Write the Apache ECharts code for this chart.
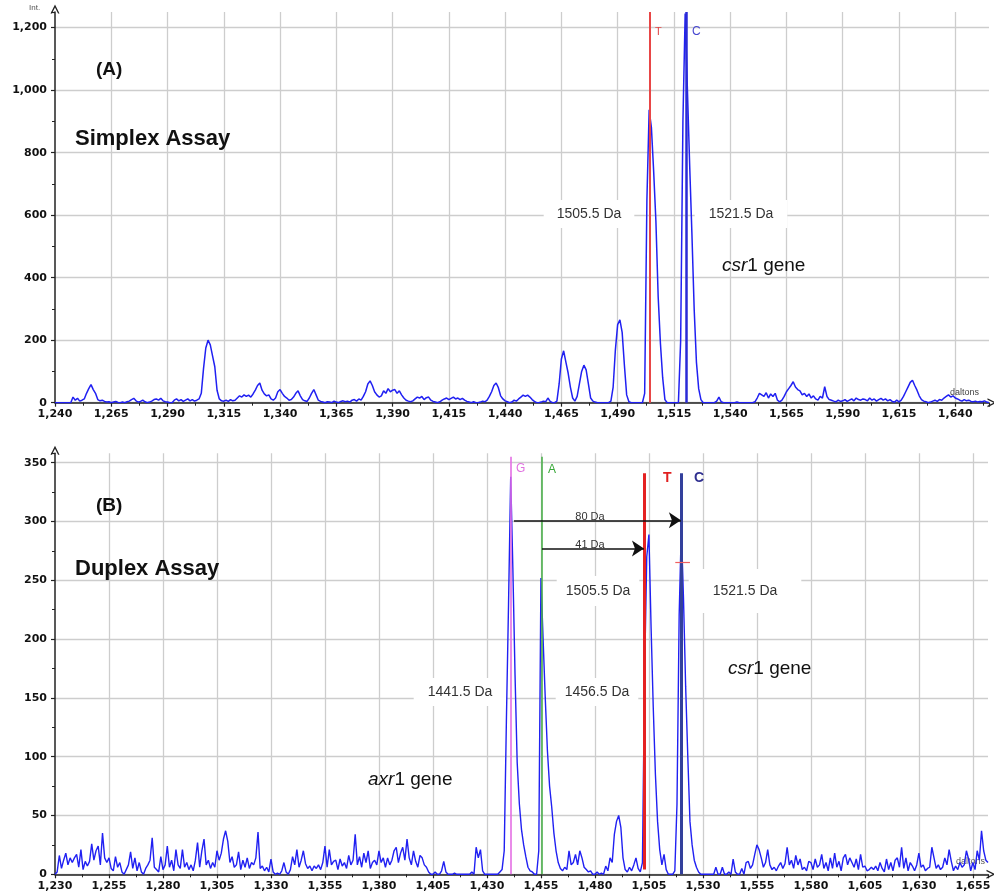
<!DOCTYPE html>
<html><head><meta charset="utf-8">
<script src="https://cdn.jsdelivr.net/npm/echarts@6/dist/echarts.min.js"></script>
<style>html,body{margin:0;padding:0;background:#fff}#c{width:994px;height:896px}</style>
</head><body><div id="c"></div>
<script>
// ---------- Panel A : Simplex Assay (1 Da sampling from massStartA) ----------
const massStartA = 1240;
const intensityA = [
  0,0,0,0,0,0,0,0,18,8,            // 1240
  14,5,8,12,30,45,58,42,30,10,     // 1250
  6,8,4,2,3,0,2,4,1,0,             // 1260
  2,0,3,5,10,14,6,2,4,8,           // 1270
  3,0,2,5,10,12,8,14,6,3,          // 1280
  2,0,0,8,12,6,10,4,8,12,          // 1290
  6,10,5,8,12,30,110,175,200,185,  // 1300
  150,115,40,12,6,5,8,4,10,6,      // 1310
  8,15,22,18,25,20,24,18,28,40,    // 1320
  55,63,40,28,22,25,12,8,15,35,    // 1330
  42,30,20,15,8,10,18,30,38,22,    // 1340
  10,6,4,15,30,42,25,8,4,2,        // 1350
  0,3,2,0,5,2,0,4,6,3,             // 1360
  5,2,8,10,5,12,8,20,35,60,        // 1370
  70,55,35,25,18,22,38,30,45,35,   // 1380
  40,42,30,38,25,15,8,5,3,6,       // 1390
  12,18,15,20,10,16,18,8,4,2,      // 1400
  0,3,8,12,15,10,14,18,12,15,      // 1410
  10,14,8,4,2,0,3,0,0,2,           // 1420
  5,3,8,20,35,55,63,48,22,12,      // 1430
  6,3,0,2,8,5,12,18,24,20,         // 1440
  24,18,10,4,0,0,2,5,3,15,         // 1450
  4,0,0,5,60,140,166,130,95,50,    // 1460
  15,5,20,60,100,120,105,60,15,5,  // 1470
  2,0,0,0,0,0,0,5,50,170,          // 1480
  250,265,225,120,25,3,0,0,0,0,    // 1490
  0,0,30,650,937,880,740,580,340,190, // 1500
  80,10,0,0,0,0,0,0,200,900,       // 1510
  1245,1000,760,540,300,130,45,10,0,0, // 1520
  0,0,0,0,5,18,3,0,0,0,            // 1530
  0,0,0,2,0,0,0,0,0,0,             // 1540
  0,3,15,30,25,20,32,15,28,20,     // 1550
  30,8,3,8,20,35,45,55,67,50,      // 1560
  42,38,25,30,20,28,15,22,12,8,    // 1570
  20,15,51,20,10,8,5,3,8,4,        // 1580
  6,10,4,8,12,6,15,10,8,12,        // 1590
  10,6,15,8,12,5,10,14,8,12,       // 1600
  6,10,4,2,8,3,8,20,35,50,         // 1610
  65,72,55,40,22,10,5,3,0,2,       // 1620
  5,8,4,10,8,15,20,25,18,22,       // 1630
  15,12,8,5,10,6,8,4,3,5,          // 1640
  2,4,3,6,2,0                      // 1650
];
const axisA = {min: 1240, max: 1655, interval: 25, yMax: 1250, yInterval: 200};
const markerNamesA = ['T', 'C'];
const markerMassA = [1504.4, 1520.4];

// ---------- Panel B : Duplex Assay (1 Da sampling from massStartB) ----------
const massStartB = 1230;
const intensityB = [
  0,2,16,5,12,18,8,14,10,14,       // 1230
  17,6,21,4,11,7,11,26,12,20,      // 1240
  24,8,35,14,10,14,5,3,15,6,       // 1250
  10,2,0,4,8,19,5,14,3,10,         // 1260
  2,0,5,8,12,31,6,4,2,15,          // 1270
  4,8,24,6,12,3,21,8,5,21,         // 1280
  6,10,4,8,3,12,27,6,20,30,        // 1290
  8,12,5,10,6,20,12,18,30,37,      // 1300
  28,10,15,6,8,19,4,12,6,14,       // 1310
  5,10,8,14,36,5,7,3,6,2,          // 1320
  13,2,0,1,0,3,10,2,0,4,           // 1330
  15,8,21,6,12,20,9,5,7,3,         // 1340
  7,5,8,4,10,24,6,21,8,11,         // 1350
  12,4,13,7,10,5,16,8,12,34,       // 1360
  8,15,6,18,10,20,5,10,12,8,       // 1370
  20,10,14,6,14,8,12,20,23,10,     // 1380
  18,23,12,30,14,8,20,11,6,16,     // 1390
  14,8,6,2,0,0,2,0,0,3,            // 1400
  11,2,0,0,0,1,0,0,0,0,            // 1410
  0,0,0,2,0,23,14,21,3,0,          // 1420
  0,0,0,0,0,0,2,4,20,130,          // 1430
  230,338,260,170,95,60,38,25,15,6, // 1440
  3,2,0,0,20,252,200,150,105,75,   // 1450
  57,35,20,10,5,3,6,4,20,8,        // 1460
  10,17,8,20,14,6,4,2,3,0,         // 1470
  0,2,0,1,0,7,3,14,10,34,          // 1480
  45,50,40,14,4,2,6,3,8,14,        // 1490
  5,2,10,171,270,289,210,142,85,45, // 1500
  21,8,17,4,0,0,0,3,60,220,        // 1510
  294,235,160,100,45,25,12,6,2,0,  // 1520
  0,0,0,0,0,0,6,0,0,6,             // 1530
  0,0,2,0,13,2,0,0,5,0,            // 1540
  10,11,5,8,17,25,21,14,6,10,      // 1550
  21,8,4,6,3,7,10,5,9,23,          // 1560
  8,12,5,16,8,13,4,6,3,11,         // 1570
  10,4,13,6,8,17,5,10,3,14,        // 1580
  5,18,6,11,3,14,17,8,14,10,       // 1590
  6,13,4,17,6,7,3,4,6,4,           // 1600
  7,3,10,5,2,13,4,10,3,12,         // 1610
  14,6,23,5,14,3,10,7,3,8,         // 1620
  18,6,8,3,5,6,23,14,5,8,          // 1630
  4,6,14,8,21,11,3,7,4,10,         // 1640
  6,8,20,13,3,10,4,20,12,37,       // 1650
  20,12,10                         // 1660
];
const axisB = {min: 1230, max: 1662, interval: 25, yMax: 358, yInterval: 50};
const markerNamesB = ['G', 'A', 'T', 'C'];
const markerMassB = [1440.9, 1455.5, 1502.7, 1519.8];
const markerTopB = [355, 355, 341, 341];
// mass-difference arrows: [fromMass, toMass, intensity level]
const arrowFromB = [1442.5, 1455.5];
const arrowToB = [1519.8, 1502.7];
const arrowLevelB = [301, 277];
const arrowTextB = ['80 Da', '41 Da'];

// ---------- build ----------
const pairsA = intensityA.map((v, i) => [massStartA + i, v]);
const pairsB = intensityB.map((v, i) => [massStartB + i, v]);
const comma = v => String(v).replace(/\B(?=(\d{3})+(?!\d))/g, ',');
const FONT = "'Liberation Sans', Arial, sans-serif";
const TICKFONT = "'DejaVu Sans', sans-serif";
const chevron = 'path://M0,10 L5,0 L10,10 L8.4,10 L5,3.2 L1.6,10 Z';

function xAxisCfg(idx, ax) {
  return {
    type: 'value', gridIndex: idx, min: ax.min, max: ax.max, interval: ax.interval,
    axisLine: {show: true, onZero: false, symbol: ['none', chevron], symbolSize: [9, 9], symbolOffset: [0, 3],
      lineStyle: {color: '#222', width: 1.5}},
    axisTick: {show: true, length: 4, inside: false, lineStyle: {color: '#222', width: 1.2}},
    minorTick: {show: true, splitNumber: 2, length: 3, lineStyle: {color: '#222', width: 1}},
    splitLine: {show: true, showMaxLine: false, showMinLine: false, lineStyle: {color: '#cdcdcd', width: 1.3}},
    axisLabel: {formatter: comma, color: '#111', fontFamily: TICKFONT, fontWeight: 'bold', fontSize: 11,
      margin: 6, showMaxLabel: false, hideOverlap: false}
  };
}
function yAxisCfg(idx, ax) {
  return {
    type: 'value', gridIndex: idx, min: 0, max: ax.yMax, interval: ax.yInterval,
    axisLine: {show: true, symbol: ['none', chevron], symbolSize: [9, 9], symbolOffset: [0, 3],
      lineStyle: {color: '#222', width: 1.5}},
    axisTick: {show: true, length: 4, lineStyle: {color: '#222', width: 1.2}},
    minorTick: {show: true, splitNumber: 2, length: 3, lineStyle: {color: '#222', width: 1}},
    splitLine: {show: true, showMaxLine: false, lineStyle: {color: '#cdcdcd', width: 1.3}},
    axisLabel: {formatter: comma, color: '#111', fontFamily: TICKFONT, fontWeight: 'bold', fontSize: 11,
      margin: 8, showMaxLabel: false}
  };
}

const colorsA = {T: '#e84646', C: '#2a2ad6'};
const colorsB = {G: '#e46ee4', A: '#4cb04c', T: '#e42222', C: '#33409c'};
const widthsB = {G: 1.6, A: 1.6, T: 3, C: 3};

const mlA = markerNamesA.map((n, i) => [
  {coord: [markerMassA[i], 0], lineStyle: {color: colorsA[n], width: n === 'C' ? 2.5 : 2, type: 'solid'}},
  {coord: [markerMassA[i], axisA.yMax]}
]);
const mlB = markerNamesB.map((n, i) => [
  {coord: [markerMassB[i], n === 'T' ? 4 : 0], lineStyle: {color: colorsB[n], width: widthsB[n], type: 'solid'}},
  {coord: [markerMassB[i], markerTopB[i]]}
]);
// small red tick next to C peak
mlB.push([{coord: [1517.2, 265], lineStyle: {color: '#f06060', width: 1.2, type: 'solid'}}, {coord: [1524, 265]}]);

const arrowLines = arrowFromB.map((f, i) => [
  {coord: [f, arrowLevelB[i]]}, {coord: [arrowToB[i], arrowLevelB[i]]}
]);

function txt(text, x, y, opt) {
  return Object.assign({type: 'text', x: x, y: y, z: 10, silent: true,
    style: Object.assign({text: text, fontFamily: FONT, fontSize: 14, fill: '#222', align: 'left', verticalAlign: 'middle'}, opt || {})});
}
function box(text, cx, cy, pad) {
  return {type: 'text', x: cx, y: cy, z: 1, silent: true,
    style: {text: text, fontFamily: FONT, fontSize: 14, fill: '#333', align: 'center', verticalAlign: 'middle',
      backgroundColor: '#fff', padding: pad}};
}
const geneRich = {i: {fontFamily: FONT, fontSize: 19, fontStyle: 'italic', fill: '#111'},
                  n: {fontFamily: FONT, fontSize: 19, fill: '#111'}};

const graphics = [
  // panel A
  txt('(A)', 96, 70, {fontSize: 19, fontWeight: 'bold', fill: '#111'}),
  txt('Simplex Assay', 75, 139, {fontSize: 22, fontWeight: 'bold', fill: '#111'}),
  box('1505.5 Da', 589, 214, [7, 13]),
  box('1521.5 Da', 741, 214, [7, 14]),
  txt('{i|csr}{n|1 gene}', 722, 266, {rich: geneRich}),
  txt('T', 655, 32, {fontSize: 11, fill: '#e04848'}),
  txt('C', 692, 32, {fontSize: 12, fill: '#4646d0'}),
  txt('Int.', 29, 8, {fontSize: 8, fill: '#555'}),
  txt('daltons', 950, 393, {fontSize: 9, fill: '#444'}),
  // panel B
  txt('(B)', 96, 506, {fontSize: 19, fontWeight: 'bold', fill: '#111'}),
  txt('Duplex Assay', 75, 569, {fontSize: 22, fontWeight: 'bold', fill: '#111'}),
  txt('G', 516, 469, {fontSize: 12, fill: '#e070e0'}),
  txt('A', 548, 470, {fontSize: 12, fill: '#38a838'}),
  txt('T', 663, 478, {fontSize: 14, fontWeight: 'bold', fill: '#e02020'}),
  txt('C', 694, 478, {fontSize: 14, fontWeight: 'bold', fill: '#303090'}),
  txt(arrowTextB[0], 590, 517, {fontSize: 11, align: 'center', fill: '#333'}),
  txt(arrowTextB[1], 590, 545, {fontSize: 11, align: 'center', fill: '#333'}),
  box('1505.5 Da', 598, 591, [8, 9]),
  box('1521.5 Da', 745, 591, [15, 24]),
  box('1441.5 Da', 460, 692, [7, 14]),
  box('1456.5 Da', 597, 692, [7, 9]),
  txt('{i|axr}{n|1 gene}', 368, 780, {rich: geneRich}),
  txt('{i|csr}{n|1 gene}', 728, 669, {rich: geneRich}),
  Object.assign(txt('daltons', 956, 862, {fontSize: 9, fill: '#555'}), {z: 1})
];

const option = {
  animation: false,
  backgroundColor: '#fff',
  grid: [
    {left: 55, right: 5, top: 12, bottom: 493.3},
    {left: 55, right: 6, top: 453.3, bottom: 21.7}
  ],
  xAxis: [xAxisCfg(0, axisA), xAxisCfg(1, axisB)],
  yAxis: [yAxisCfg(0, axisA), yAxisCfg(1, axisB)],
  series: [
    {type: 'line', xAxisIndex: 0, yAxisIndex: 0, data: pairsA, showSymbol: false, symbol: 'none', z: 3,
      lineStyle: {color: '#2020f2', width: 1.5}, silent: true,
      markLine: {silent: true, symbol: ['none', 'none'], label: {show: false}, lineStyle: {type: 'solid'}, data: mlA}},
    {type: 'line', xAxisIndex: 1, yAxisIndex: 1, data: pairsB, showSymbol: false, symbol: 'none', z: 3,
      lineStyle: {color: '#2020f2', width: 1.4}, silent: true,
      markLine: {silent: true, symbol: ['none', 'none'], label: {show: false}, lineStyle: {type: 'solid'}, data: mlB}},
    {type: 'line', xAxisIndex: 1, yAxisIndex: 1, data: [], z: 4,
      markLine: {silent: true, symbol: ['none', 'arrow'], symbolSize: 12, label: {show: false},
        lineStyle: {type: 'solid', color: '#111', width: 1.5}, data: arrowLines}}
  ],
  graphic: graphics
};
const chart = echarts.init(document.getElementById('c'), null, {renderer: 'canvas'});
chart.setOption(option);
</script></body></html>
